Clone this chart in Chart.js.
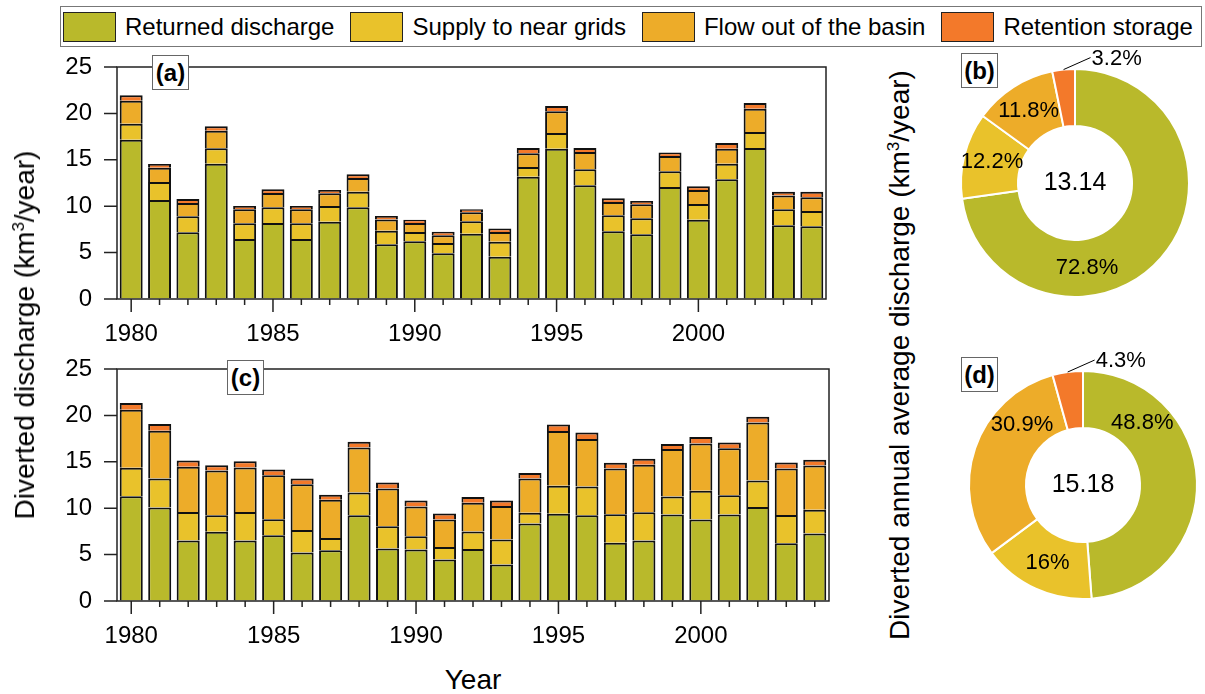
<!DOCTYPE html>
<html>
<head>
<meta charset="utf-8">
<title>Diverted discharge</title>
<script src="https://cdn.jsdelivr.net/npm/chart.js@4.4.0/dist/chart.umd.min.js"></script>
<style>
  body { margin: 0; background: #fff; width: 1205px; height: 694px; overflow: hidden; position: relative;
         font-family: "Liberation Sans", Arial, sans-serif; color: #000; }
  canvas { position: absolute; }
  #legend { position: absolute; left: 60px; top: 6px; width: 1138px; height: 39px; border: 1px solid #777;
            display: flex; align-items: center; font-size: 24px; padding-left: 2px; box-sizing: content-box; }
  .item { display: flex; align-items: center; margin-right: 16px; white-space: nowrap; }
  .sw { width: 53px; height: 30px; border: 1px solid #222; box-sizing: border-box; margin-right: 9px; }
  .vtitle { position: absolute; font-size: 28px; line-height: 28px; white-space: nowrap;
            transform: translate(-50%, -50%) rotate(-90deg); }
  .vtitle sup, #xtitle sup { font-size: 17px; line-height: 0; }
  #xtitle { position: absolute; left: 473px; top: 666px; font-size: 28px; line-height: 28px; transform: translateX(-50%); }
  .tag { position: absolute; width: 37px; height: 35px; box-sizing: border-box; border: 1px solid #666; background: #fff;
         font-weight: bold; font-size: 24px; line-height: 33px; text-align: center; }
</style>
</head>
<body>

<div id="legend"></div>

<canvas id="chartA" width="830" height="299" style="left:0px; top:50px;"></canvas>
<canvas id="chartC" width="833" height="299" style="left:0px; top:352px;"></canvas>
<canvas id="chartB" width="262" height="253" style="left:940px; top:45px;"></canvas>
<canvas id="chartD" width="262" height="255" style="left:940px; top:345px;"></canvas>

<div class="tag" style="left:152px; top:55px;">(a)</div>
<div class="tag" style="left:227px; top:360px;">(c)</div>
<div class="tag" style="left:961px; top:53px;">(b)</div>
<div class="tag" style="left:961px; top:357px;">(d)</div>

<div class="vtitle" style="left:25px; top:335px;">Diverted discharge (km<sup>3</sup>/year)</div>
<div class="vtitle" style="left:900px; top:355px;">Diverted annual average discharge (km<sup>3</sup>/year)</div>
<div id="xtitle">Year</div>

<script>
'use strict';

// categorias y series
var years = [1980, 1981, 1982, 1983, 1984, 1985, 1986, 1987, 1988, 1989, 1990, 1991, 1992,
             1993, 1994, 1995, 1996, 1997, 1998, 1999, 2000, 2001, 2002, 2003, 2004];
var seriesNames = ['Returned discharge', 'Supply to near grids', 'Flow out of the basin', 'Retention storage'];
var seriesColors = ['#b9b92b', '#e9c22b', '#edac29', '#f3792a'];

// panel (a)
var returnedA  = [17.17, 10.67, 7.18, 14.58, 6.47, 8.19, 6.47, 8.33, 9.88, 5.89, 6.21, 4.92, 7.04,
                  4.56, 13.18, 16.20, 12.25, 7.29, 6.97, 12.07, 8.55, 12.90, 16.27, 7.94, 7.83];
var supplyA    = [1.72, 1.94, 1.73, 1.66, 1.68, 1.69, 1.68, 1.69, 1.69, 1.47, 1.01, 1.11, 1.33,
                  1.62, 1.04, 1.69, 1.72, 1.73, 1.72, 1.69, 1.69, 1.68, 1.73, 1.72, 1.65];
var flowOutA   = [2.48, 1.54, 1.43, 1.90, 1.51, 1.54, 1.51, 1.37, 1.47, 1.22, 0.97, 0.83, 0.97,
                  1.04, 1.48, 2.33, 1.87, 1.43, 1.51, 1.65, 1.51, 1.62, 2.51, 1.48, 1.48];
var retentionA = [0.58, 0.40, 0.44, 0.47, 0.36, 0.40, 0.36, 0.36, 0.39, 0.36, 0.36, 0.40, 0.32,
                  0.39, 0.57, 0.58, 0.43, 0.40, 0.36, 0.39, 0.39, 0.61, 0.61, 0.43, 0.61];

// panel (c)
var returnedC  = [11.29, 10.07, 6.51, 7.45, 6.51, 7.09, 5.22, 5.47, 9.24, 5.65, 5.54, 4.46, 5.61,
                  3.92, 8.35, 9.39, 9.24, 6.29, 6.51, 9.32, 8.78, 9.32, 10.14, 6.22, 7.27];
var supplyC    = [3.06, 3.13, 3.09, 1.79, 3.09, 1.72, 2.44, 1.33, 2.45, 2.41, 1.44, 1.37, 1.87,
                  2.70, 1.15, 3.02, 3.10, 3.06, 3.06, 1.94, 3.09, 2.08, 2.85, 3.06, 2.55];
var flowOutC   = [6.26, 5.15, 4.86, 4.82, 4.79, 4.75, 4.93, 4.10, 4.86, 4.06, 3.20, 2.95, 3.10,
                  3.63, 3.70, 5.90, 5.11, 4.93, 5.11, 5.11, 5.11, 5.07, 6.25, 5.00, 4.78];
var retentionC = [0.72, 0.71, 0.68, 0.58, 0.68, 0.61, 0.61, 0.54, 0.61, 0.65, 0.65, 0.64, 0.64,
                  0.58, 0.58, 0.72, 0.72, 0.61, 0.64, 0.54, 0.68, 0.62, 0.62, 0.65, 0.62];

// donas (b) y (d): porcentajes y promedio anual
var shareB = [72.8, 12.2, 11.8, 3.2];
var meanB = '13.14';
var shareD = [48.8, 16, 30.9, 4.3];
var meanD = '15.18';

var FONT = '"Liberation Sans", Arial, sans-serif';
Chart.defaults.font.family = FONT;
Chart.defaults.color = '#000';

// leyenda compartida
var legend = document.getElementById('legend');
seriesNames.forEach(function (name, i) {
  var it = document.createElement('div');
  it.className = 'item';
  it.innerHTML = '<div class="sw" style="background:' + seriesColors[i] + '"></div><span>' + name + '</span>';
  legend.appendChild(it);
});

// marco, ticks mayores y menores
var panelFrame = {
  id: 'panelFrame',
  afterDraw: function (chart) {
    var ctx = chart.ctx, a = chart.chartArea;
    var xs = chart.scales.x, ys = chart.scales.y;
    ctx.save();
    ctx.strokeStyle = '#222';
    ctx.lineWidth = 1.5;
    ctx.beginPath();
    ys.ticks.forEach(function (t) {
      var y = ys.getPixelForValue(t.value);
      var len = t.value % 5 === 0 ? 13 : 7;
      ctx.moveTo(a.left - len, y);
      ctx.lineTo(a.left, y);
    });
    chart.data.labels.forEach(function (yr, i) {
      var x = xs.getPixelForValue(i);
      var len = yr % 5 === 0 ? 13 : 6;
      ctx.moveTo(x, a.bottom);
      ctx.lineTo(x, a.bottom + len);
    });
    ctx.stroke();
    ctx.strokeRect(a.left, a.top, a.right - a.left, a.bottom - a.top);
    ctx.restore();
  }
};

function barChart(id, rows, padRight) {
  var sets = [];
  for (var k = 0; k < rows.length; k++) {
    sets.push({
      label: seriesNames[k],
      data: rows[k],
      backgroundColor: seriesColors[k],
      borderColor: '#111',
      borderWidth: 2,
      borderSkipped: 'start',
      barPercentage: 0.81,
      categoryPercentage: 1
    });
  }
  return new Chart(document.getElementById(id).getContext('2d'), {
    type: 'bar',
    data: { labels: years, datasets: sets },
    options: {
      responsive: false,
      animation: false,
      layout: { padding: { left: 60, top: 17, right: padRight, bottom: 0 } },
      plugins: { legend: { display: false }, tooltip: { enabled: false } },
      scales: {
        x: {
          stacked: true,
          grid: { drawOnChartArea: false, drawTicks: true, tickLength: 13, color: 'rgba(0,0,0,0)' },
          border: { display: false },
          ticks: {
            autoSkip: false, maxRotation: 0, padding: 8, font: { size: 24 },
            callback: function (v, i) { return years[i] % 5 === 0 ? String(years[i]) : ''; }
          },
          afterFit: function (s) { s.height = 50; s.paddingLeft = 0; s.paddingRight = 0; }
        },
        y: {
          stacked: true, min: 0, max: 25,
          grid: { drawOnChartArea: false, drawTicks: true, tickLength: 13, color: 'rgba(0,0,0,0)' },
          border: { display: false },
          ticks: {
            stepSize: 2.5, padding: 12, font: { size: 24 },
            callback: function (v) { return v % 5 === 0 ? String(v) : ''; }
          },
          afterFit: function (s) { s.width = 57; s.paddingTop = 0; s.paddingBottom = 0; }
        }
      }
    },
    plugins: [panelFrame]
  });
}

barChart('chartA', [returnedA, supplyA, flowOutA, retentionA], 4);
barChart('chartC', [returnedC, supplyC, flowOutC, retentionC], 4);

// etiquetas dentro del anillo, la pequenia va afuera con linea guia
var ringLabels = {
  id: 'ringLabels',
  afterDatasetsDraw: function (chart, args, opts) {
    var ctx = chart.ctx;
    var arcs = chart.getDatasetMeta(0).data;
    var vals = chart.data.datasets[0].data;
    ctx.save();
    ctx.fillStyle = '#000';
    ctx.textBaseline = 'middle';
    ctx.font = '22px ' + FONT;
    arcs.forEach(function (arc, i) {
      var p = arc.getProps(['x', 'y', 'startAngle', 'endAngle', 'innerRadius', 'outerRadius'], true);
      var txt = vals[i] + '%';
      var ang;
      if (i === opts.outside) {
        ang = (p.startAngle + p.endAngle) / 2;
        var x0 = p.x + Math.cos(ang) * p.outerRadius;
        var y0 = p.y + Math.sin(ang) * p.outerRadius;
        ctx.strokeStyle = '#000';
        ctx.lineWidth = 1;
        ctx.beginPath();
        ctx.moveTo(x0, y0);
        ctx.lineTo(x0 + 27, y0 - 12);
        ctx.stroke();
        ctx.textAlign = 'left';
        ctx.fillText(txt, x0 + 28, y0 - 11);
        return;
      }
      ang = p.startAngle + opts.at[i] * (p.endAngle - p.startAngle);
      var r = (p.innerRadius + p.outerRadius) / 2;
      ctx.textAlign = 'center';
      ctx.fillText(txt, p.x + Math.cos(ang) * r, p.y + Math.sin(ang) * r);
    });
    ctx.font = '25px ' + FONT;
    ctx.textAlign = 'center';
    ctx.fillText(opts.center, arcs[0].x, arcs[0].y);
    ctx.restore();
  }
};

function ringChart(id, vals, center, at, pad) {
  return new Chart(document.getElementById(id).getContext('2d'), {
    type: 'doughnut',
    data: {
      labels: seriesNames,
      datasets: [{ data: vals, backgroundColor: seriesColors, borderColor: '#fff', borderWidth: 2 }]
    },
    options: {
      responsive: false,
      animation: false,
      cutout: '50%',
      layout: { padding: pad },
      plugins: {
        legend: { display: false },
        tooltip: { enabled: false },
        ringLabels: { center: center, at: at, outside: 3 }
      }
    },
    plugins: [ringLabels]
  });
}

ringChart('chartB', shareB, meanB, [0.656, 0.5, 0.5], { left: 20, right: 12, top: 23, bottom: 0 });
ringChart('chartD', shareD, meanD, [0.25, 0.5, 0.73], { left: 28, right: 4, top: 25, bottom: 0 });
</script>
</body>
</html>
